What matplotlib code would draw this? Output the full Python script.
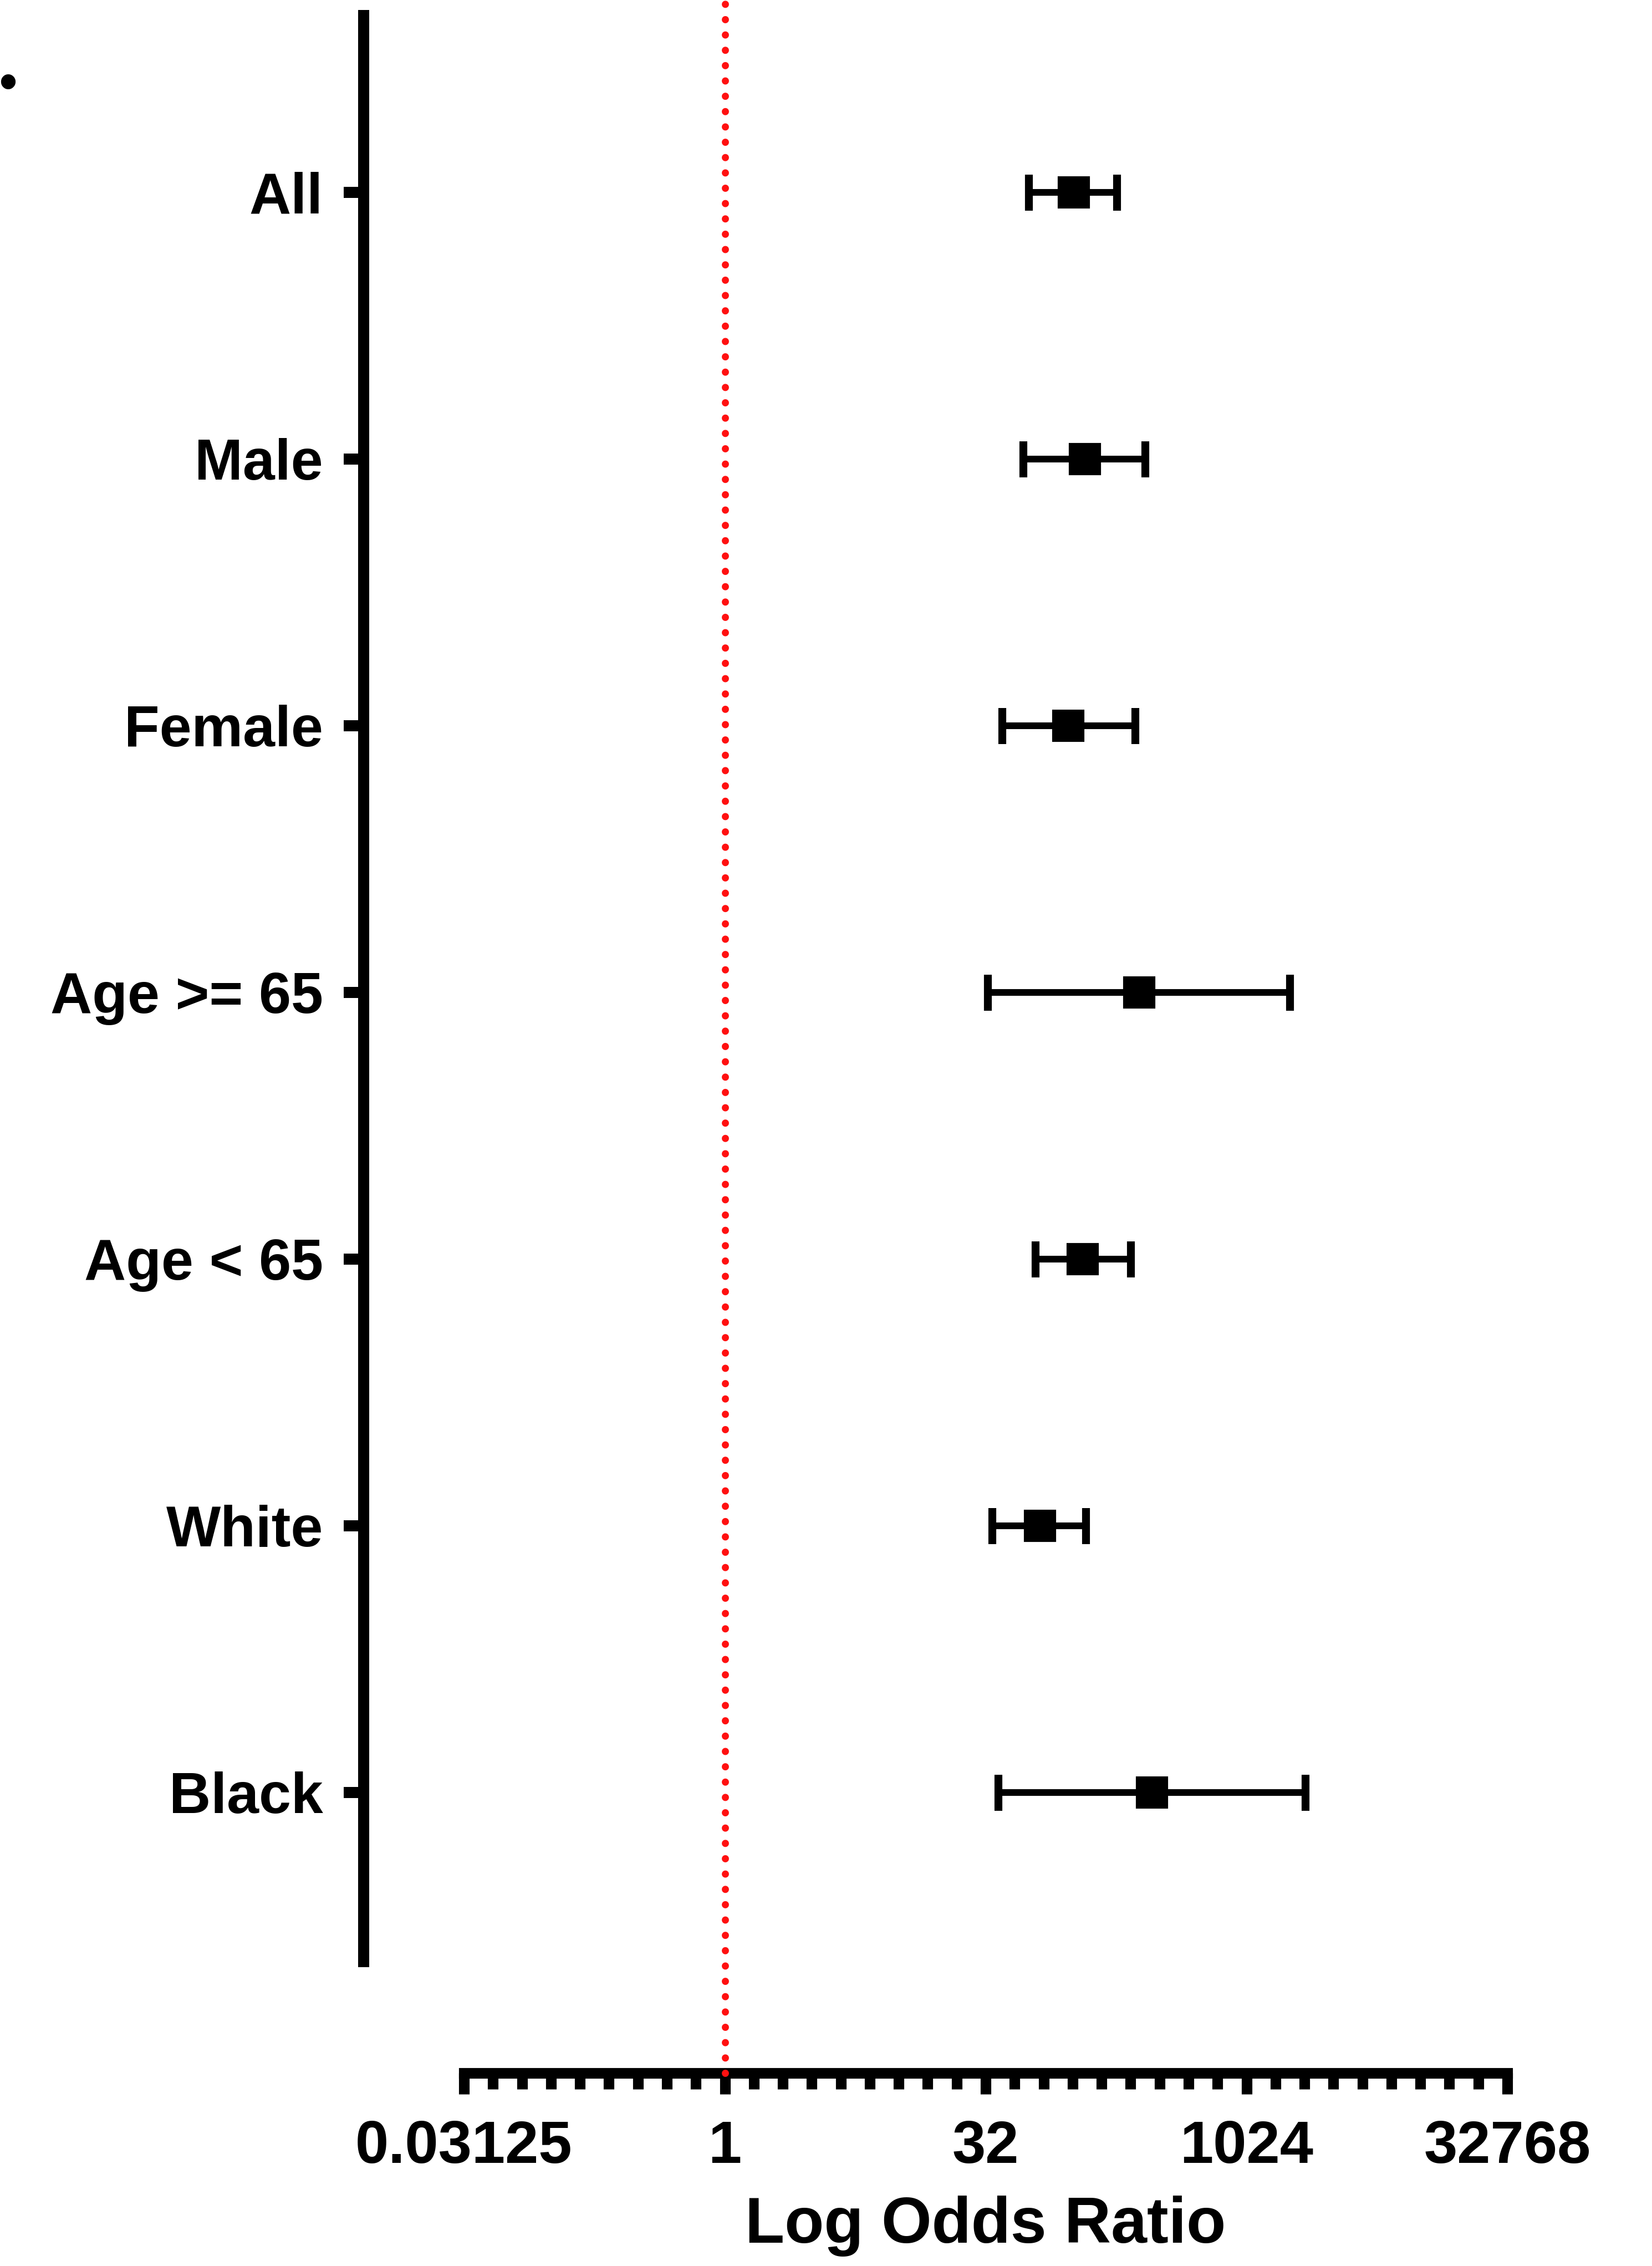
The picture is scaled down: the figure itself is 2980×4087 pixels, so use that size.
import numpy as np
import matplotlib
matplotlib.use('Agg')
import matplotlib.pyplot as plt
from matplotlib.ticker import FixedLocator, NullFormatter

plt.rcParams['font.family'] = ['Liberation Sans', 'DejaVu Sans']
plt.rcParams['font.weight'] = 'bold'

# Odds ratios with 95% CI for each subgroup
groups = ['All', 'Male', 'Female', 'Age >= 65', 'Age < 65', 'White', 'Black']
odds = [103, 120, 96, 247, 116, 66, 291]
ci_low = [57, 53, 40, 33, 62, 35, 38]
ci_high = [183, 266, 233, 1823, 221, 121, 2244]

xticks = [2.0**-5, 1, 32, 1024, 32768]
xtick_labels = ['0.03125', '1', '32', '1024', '32768']

W, H = 2980, 4087
dpi = 300
fig = plt.figure(figsize=(W / dpi, H / dpi), dpi=dpi)
ax = fig.add_axes([837 / W, 1 - 3739 / H, (2719 - 837) / W, 3739 / H])

ypos = np.arange(len(groups))
odds = np.array(odds, dtype=float)
err = np.array([odds - np.array(ci_low), np.array(ci_high) - odds])

ax.errorbar(odds, ypos, xerr=err, fmt='s', color='black', markersize=13,
            elinewidth=2.9, capsize=7.8, capthick=3.4, zorder=3)

# reference line at OR = 1
ax.axvline(1, color='#ff1010', lw=3.1, linestyle=(0, (0.01, 2.13)),
           dash_capstyle='round', clip_on=False, zorder=4)

ax.set_xscale('log', base=2)
ax.set_xlim(2.0**-5, 2.0**15)
ax.set_ylim(7.052, -0.7214)

ax.xaxis.set_major_locator(FixedLocator(xticks))
ax.set_xticklabels(xtick_labels)
minor = [2.0**(-5 + k * 5 / 9) for k in range(37) if k % 9 != 0]
ax.xaxis.set_minor_locator(FixedLocator(minor))
ax.xaxis.set_minor_formatter(NullFormatter())

ax.set_yticks(ypos)
ax.set_yticklabels(groups)

for side in ['top', 'right']:
    ax.spines[side].set_visible(False)
ax.spines['left'].set_position(('outward', 43.4))
ax.spines['left'].set_bounds(-0.684, 6.655)
ax.spines['left'].set_linewidth(4.8)
ax.spines['bottom'].set_linewidth(4.6)
ax.spines['left'].set_capstyle('butt')

ax.tick_params(axis='y', length=8.6, width=4.8, pad=9, labelsize=25)
ax.tick_params(axis='x', which='major', length=9.1, width=4.6, pad=11, labelsize=26)
ax.tick_params(axis='x', which='minor', length=7, width=4.6)
for lab in ax.get_xticklabels() + ax.get_yticklabels():
    lab.set_fontweight('bold')

ax.set_xlabel('Log Odds Ratio', fontsize=28, fontweight='bold', labelpad=9)
ax.patch.set_alpha(0)

fig.text(14 / W, 1 - 154 / H, '•', fontsize=22, ha='center', va='center',
         fontweight='bold')

fig.savefig('out.png', dpi=dpi)
